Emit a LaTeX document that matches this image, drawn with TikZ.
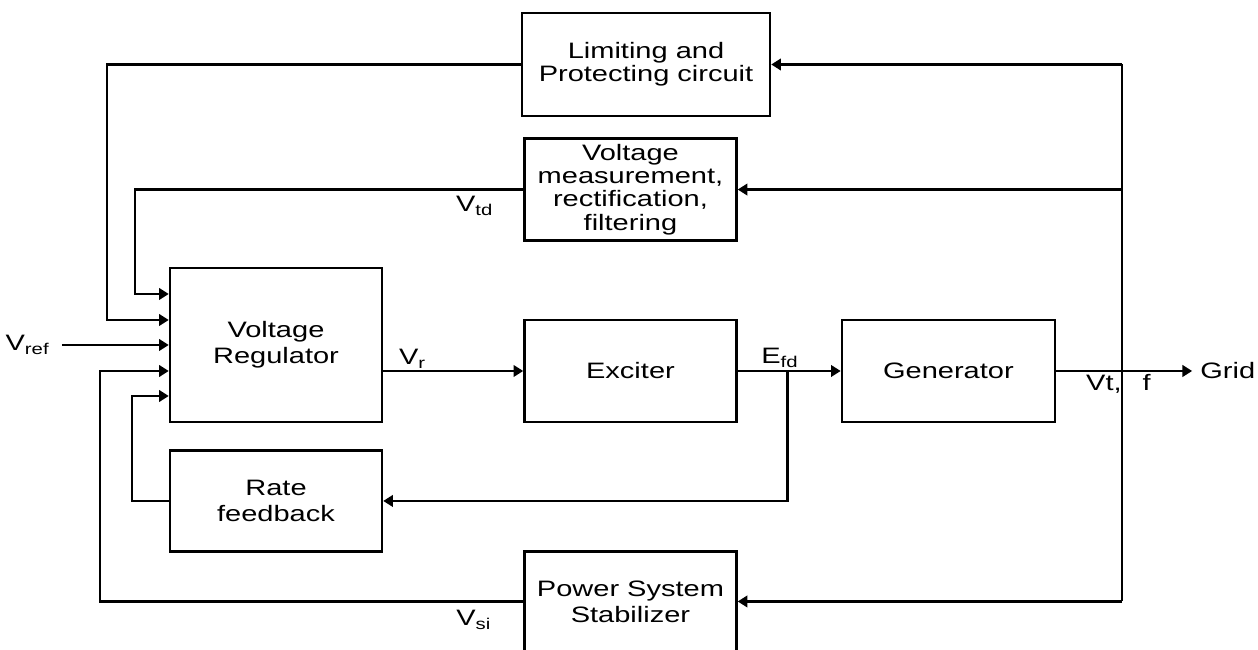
\documentclass[tikz,border=0pt]{standalone}
\usepackage{fontspec}
\setmainfont{Liberation Sans}[FakeStretch=1.3]
\usetikzlibrary{arrows.meta, positioning, calc}

\begin{document}
\begin{tikzpicture}[
    font=\fontsize{12.7}{14.7}\selectfont,
    >={Triangle[length=5.5pt,width=6.5pt]},
    line width=1.4pt,
    % block style
    block/.style={
        rectangle,
        draw=black,
        fill=white,
        minimum width=4.24cm,
        minimum height=2.04cm,
        inner sep=0pt,
        align=center,
        line width=1.4pt
    },
    tightblock/.style={
        block,
        font=\fontsize{12.7}{13.3}\selectfont
    },
    sig/.style={
        inner sep=1pt
    }
]
    \useasboundingbox (0,0) rectangle (25.16,-13);

    % --- NODES ---

    % Voltage regulator (left)
    \node[block, minimum height=3.08cm] (reg) at (5.52,-6.90) {Voltage\\Regulator};

    % Rate feedback under the regulator
    \node[block, minimum height=2.02cm, below=0.52cm of reg] (rf) {Rate\\feedback};

    % Exciter and generator in the forward path
    \node[block, right=2.8cm of reg, yshift=-0.52cm] (exc) {Exciter};
    \node[block, minimum width=4.26cm, right=2.06cm of exc] (gen) {Generator};

    % Feedback blocks
    \node[tightblock, minimum width=4.96cm, minimum height=2.06cm] (limit) at (12.92,-1.29) {Limiting and\\Protecting circuit};
    \node[tightblock, above=1.54cm of exc] (meas) {Voltage\\measurement,\\rectification,\\filtering};
    \node[block, minimum height=2.0cm, below=2.54cm of exc] (pss) {Power System\\Stabilizer};

    % Input and output
    \node[sig, inner xsep=0.22cm, left=2.14cm of reg] (vref) {V\textsubscript{ref}};
    \node[sig, inner xsep=0.14cm, right=2.72cm of gen] (grid) {Grid};

    % --- LINKS / ARROWS ---

    % Forward path
    \draw[->] (vref) -- (reg);
    \draw[->] (reg.east |- exc.west) -- node[sig, pos=0.21, above] (vr) {V\textsubscript{r}} (exc.west);
    \draw[->] (exc.east) -- node[sig, pos=0.41, above] (efdlbl) {E\textsubscript{fd}} (gen.west);
    \draw[->] (gen.east) -- (grid.west);

    % Efd -> rate feedback
    \coordinate (efd) at ($(exc.east)+(1.0,0)$);
    \draw[->] (efd) |- (rf.east);

    % Terminal bus on the right
    \coordinate (bustop) at (22.44,-1.29);
    \draw (bustop) -- (bustop |- pss.east);
    \draw[->] (bustop) -- (limit.east);
    \draw[->] (bustop |- meas.east) -- (meas.east);
    \draw[->] (bustop |- pss.east) -- (pss.east);
    \node[sig, inner sep=0pt, anchor=north west] (vtf) at (21.70,-7.47) {Vt,\hspace{0.42cm}f};

    % Return rails on the left
    \coordinate (raillim) at (2.14,0);
    \coordinate (railmeas) at (2.70,0);
    \coordinate (railrf) at (2.64,0);
    \coordinate (railpss) at (2.00,0);

    \draw[->] (limit.west) -- (limit.west -| raillim) |- ([yshift=0.50cm]reg.west);
    \draw[->] (meas.west) -- (meas.west -| railmeas) |- ([yshift=1.02cm]reg.west);
    \draw[->] (pss.west) -- (pss.west -| railpss) |- ([yshift=-0.52cm]reg.west);
    \draw[->] (rf.west) -- (rf.west -| railrf) |- ([yshift=-1.02cm]reg.west);

    % Signal names on the rails
    \node[sig, below left=0.08cm and 0.54cm of meas.west] (vtd) {V\textsubscript{td}};
    \node[sig, below left=0.12cm and 0.58cm of pss.west] (vsi) {V\textsubscript{si}};

\end{tikzpicture}
\end{document}
